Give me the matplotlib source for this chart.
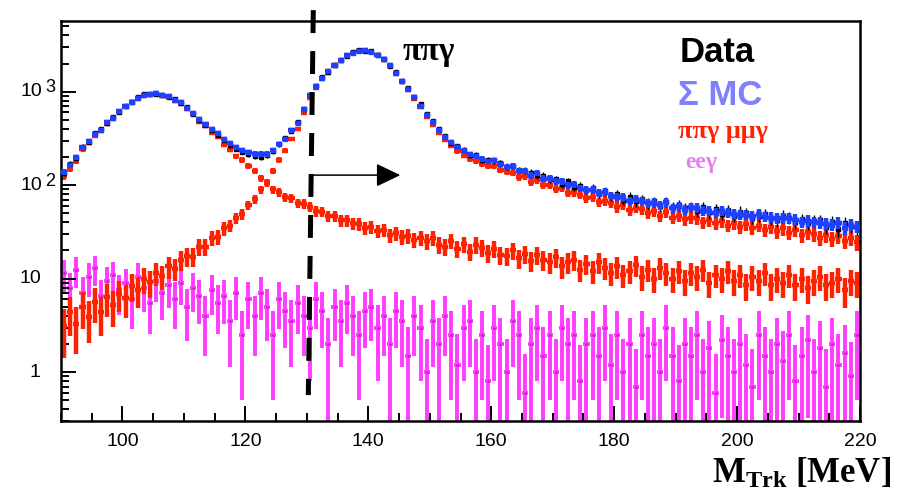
import numpy as np
import matplotlib
matplotlib.use("Agg")
import matplotlib.pyplot as plt
from matplotlib import transforms
from matplotlib.ticker import FixedLocator, MultipleLocator, NullFormatter

# track mass histogram, 1 MeV bins from 90 to 220 MeV
bin_lo, bin_hi, bin_w = 90.0, 220.0, 1.0

pipig = [3.1, 4.4, 3.3, 5.0, 3.9, 5.6, 4.4, 6.3, 5.2, 6.9,
         6.2, 8.4, 7.5, 9.9, 9.1, 11.6, 10.6, 13.5, 12.7, 16.0,
         17.4, 17.1, 21.8, 22.0, 27.3, 28.1, 34.5, 37.0, 44.5, 49.0,
         61, 71, 90, 107, 143, 187, 233, 312, 398, 585,
         860, 1100, 1350, 1600, 1870, 2140, 2390, 2580, 2700, 2720,
         2630, 2440, 2180, 1880, 1560, 1280, 1040, 840, 680, 540,
         440, 362, 303, 262, 231, 207, 192, 180, 168, 160,
         160, 147, 138, 136, 122, 124, 109, 114, 100, 101,
         92, 93, 83, 84, 79, 72, 74, 66, 68, 64,
         58, 62, 54, 57, 55, 50, 53, 47, 51, 45,
         47, 43, 45, 44, 40, 42, 39, 41, 37, 39,
         35.5, 38.5, 35, 37, 33, 35.5, 32, 34.5, 31, 33.5,
         29, 31.5, 30, 27.5, 29.5, 26.5, 28.5, 25.5, 27.5, 24.5]

mumug = [125, 150, 183, 241, 282, 336, 381, 456, 511, 600,
         681, 770, 840, 908, 922, 935, 905, 874, 803, 742,
         652, 570, 478, 425, 362, 327, 271, 239, 203, 186,
         160, 143, 119, 106, 90, 84, 75, 72, 64, 63,
         59, 53, 52, 47, 46.5, 42, 42, 39, 38.5, 35,
         35.5, 32.5, 33, 29, 30.5, 28, 28.5, 26, 27, 25,
         27, 23, 22, 25.5, 21, 23.5, 19.5, 23, 21.5, 19,
         21, 18, 17.5, 20, 16.5, 18.5, 15.5, 18, 16, 15,
         17, 13.5, 15, 16, 12.5, 14.5, 12, 15, 13, 11.5,
         13.5, 11, 12, 14, 10.5, 12.5, 10, 13, 11.5, 10,
         12, 9.5, 11.5, 10.5, 12.5, 9, 11, 10, 12, 9.5,
         11, 8.5, 10.5, 9.5, 11.5, 8.5, 10, 9, 11, 8.5,
         10, 8, 9.5, 10.5, 8.5, 9, 10, 7.5, 9.5, 9]

eeg = [11.5, 8.0, 12.5, 7.0, 10.5, 13.0, 6.5, 9.5, 11.0, 7.5,
       9.0, 6.0, 10.5, 8.0, 5.5, 9.5, 7.0, 8.5, 6.0, 9.0,
       5.0, 8.0, 6.5, 4.0, 7.5, 5.5, 6.5, 3.5, 7.0, 2.5,
       6.0, 4.0, 7.0, 5.0, 2.5, 6.0, 4.5, 3.5, 5.5, 4.0,
       3.0, 6.0, 4.5, 2.0, 5.0, 3.5, 5.5, 4.0, 2.5, 4.5,
       5.0, 3.0, 4.0, 2.0, 4.5, 3.5, 1.5, 4.0, 3.0, 1.0,
       3.5, 2.0, 4.0, 2.5, 1.2, 3.0, 3.5, 1.0, 2.5, 0.8,
       3.0, 2.0, 1.0, 3.5, 2.5, 0.6, 2.0, 3.0, 1.5, 2.5,
       1.0, 3.0, 2.0, 2.5, 0.8, 2.0, 2.5, 1.5, 3.0, 1.2,
       2.5, 1.0, 2.0, 0.7, 2.5, 1.5, 2.0, 1.0, 3.0, 1.5,
       0.8, 2.0, 1.5, 2.5, 1.0, 1.8, 0.6, 2.2, 1.5, 1.0,
       2.0, 1.2, 0.7, 2.5, 1.5, 1.0, 2.0, 1.3, 2.5, 0.8,
       1.5, 2.2, 1.0, 1.8, 0.7, 2.0, 1.2, 1.6, 0.9, 2.5]

data = [136, 168, 193, 259, 290, 362, 398, 463, 538, 606,
        708, 777, 872, 941, 948, 947, 930, 884, 835, 758,
        690, 582, 498, 440, 391, 348, 305, 268, 246, 228,
        216, 205, 202, 210, 230, 275, 318, 382, 474, 660,
        930, 1150, 1420, 1640, 1935, 2200, 2420, 2640, 2760, 2750,
        2690, 2480, 2230, 1900, 1610, 1300, 1085, 880, 730, 572,
        480, 395, 338, 284, 262, 240, 210, 212, 188, 186,
        184, 172, 158, 160, 146, 143, 136, 127, 126, 115,
        116, 104, 110, 96, 98, 89, 93, 81, 86, 76,
        80, 70, 75, 67, 71, 64, 67, 60, 66, 58,
        61, 57, 59, 53, 58, 51, 55, 49, 54, 47,
        52, 50, 45, 47, 49, 44, 42, 47, 45, 40,
        43, 39, 41, 42, 36, 40, 34, 39, 37, 35]

x_ticks = [100, 120, 140, 160, 180, 200, 220]

# cut position and selected region
cut_top, cut_bottom = 131.05, 130.24
arrow_from, arrow_to, arrow_y = 130.84, 145.2, 128

RED = "#ff2200"
BLUE = "#2040ff"
MAGENTA = "#ff3cff"


def errors(vals, weight):
    vals = np.asarray(vals, dtype=float)
    err = np.sqrt(weight * vals)
    lower = np.minimum(err, vals - 1e-3)
    return [lower, err]


edges = np.arange(bin_lo, bin_hi + bin_w, bin_w)
centers = edges[:-1] + 0.5 * bin_w
pipig = np.array(pipig)
mumug = np.array(mumug)
eeg = np.array(eeg)
data = np.array(data, dtype=float)
mc = pipig + mumug + eeg

plt.rcParams['font.family'] = ['Liberation Sans', 'DejaVu Sans']
plt.rcParams['mathtext.fontset'] = 'custom'
plt.rcParams['mathtext.rm'] = 'Liberation Serif'
plt.rcParams['mathtext.bf'] = 'Liberation Serif:bold'

fig = plt.figure(figsize=(9.1, 4.93), dpi=100)
ax = fig.add_axes([61 / 910, 72 / 493, 799 / 910, 400 / 493])

ax.errorbar(centers, eeg, xerr=bin_w / 2, yerr=errors(eeg, 1.6), fmt='none',
            ecolor=MAGENTA, elinewidth=2.8, capsize=0, zorder=1)
ax.plot(centers, eeg, ls='none', marker='s', ms=0.8, color='#c020c0', zorder=1.1)
for comp in (mumug, pipig):
    ax.errorbar(centers, comp, xerr=bin_w / 2, yerr=errors(comp, 0.9), fmt='none',
                ecolor=RED, elinewidth=3.2, capsize=0, zorder=2)
ax.errorbar(centers, data, yerr=errors(data, 1.0), fmt='s', ms=2.6, color='k',
            elinewidth=1.0, capsize=0, zorder=3)
ax.errorbar(centers, mc, xerr=bin_w / 2, yerr=errors(mc, 0.8), fmt='s', ms=3.4,
            color=BLUE, elinewidth=3.2, capsize=0, zorder=4)

ax.set_yscale('log')
ax.set_xlim(bin_lo, bin_hi)
ax.set_ylim(0.3, 5700)

# ROOT-like frame: ticks inside, only on left and bottom
for sp in ax.spines.values():
    sp.set_linewidth(1.8)
ax.xaxis.set_major_locator(FixedLocator(x_ticks))
ax.xaxis.set_minor_locator(MultipleLocator(5))
ax.yaxis.set_major_locator(FixedLocator([1, 10, 100, 1000]))
ax.yaxis.set_minor_locator(FixedLocator(
    [m * 10.0 ** e for e in range(-1, 4) for m in range(2, 10)]))
ax.yaxis.set_major_formatter(NullFormatter())
ax.yaxis.set_minor_formatter(NullFormatter())
ax.tick_params(which='both', direction='in', top=False, right=False, width=1.4)
ax.tick_params(which='major', length=11)
ax.tick_params(which='minor', length=5.5)
ax.tick_params(axis='x', labelsize=14, pad=8.5)

# y labels drawn by hand: "10" with a near full size raised exponent
ytr = ax.get_yaxis_transform()
up = transforms.offset_copy(ytr, fig=fig, x=0, y=4, units='dots')
ax.text(-0.032, 1, '1', transform=ytr, ha='center', va='center', fontsize=14)
ax.text(-0.038, 10, '10', transform=ytr, ha='center', va='center', fontsize=14)
for val, exp in ((100, '2'), (1000, '3')):
    ax.text(-0.0235, val, '10', transform=ytr, ha='right', va='center', fontsize=14)
    ax.text(-0.0195, val, exp, transform=up, ha='left', va='center', fontsize=13)

# selection cut and arrow
ax.plot([cut_top, cut_bottom], [7450, 0.568], color='k', lw=3.6,
        ls=(0, (16.5 / 3.6, 13 / 3.6)), clip_on=False, zorder=6)
ax.annotate('', xy=(arrow_to, arrow_y), xytext=(arrow_from, arrow_y),
            arrowprops=dict(arrowstyle='-|>,head_length=0.75,head_width=0.36',
                            mutation_scale=20, lw=1.1, color='k',
                            shrinkA=0, shrinkB=0), zorder=6)

fig.text(403 / 910, 1 - 60 / 493, 'ππγ', family='Liberation Serif', weight='bold',
         fontsize=24, va='baseline')

# legend-style labels
fig.text(680 / 910, 1 - 62 / 493, 'Data', fontsize=25, weight='bold', va='baseline')
fig.text(678 / 910, 1 - 105 / 493, 'Σ MC', fontsize=25, weight='bold',
         color='#8080ff', va='baseline')
fig.text(678 / 910, 1 - 138 / 493, 'ππγ μμγ', family='Liberation Serif',
         weight='bold', fontsize=19, color=RED, va='baseline')
fig.text(685 / 910, 1 - 168 / 493, 'eeγ', family='Liberation Serif',
         weight='bold', fontsize=17, color='#e57ff0', va='baseline')

fig.text(712 / 910, 1 - 483 / 493, r'$\mathbf{M_{Trk}}$ [MeV]',
         family='Liberation Serif', weight='bold', fontsize=25, va='baseline')

fig.savefig('out.png', dpi=100)
